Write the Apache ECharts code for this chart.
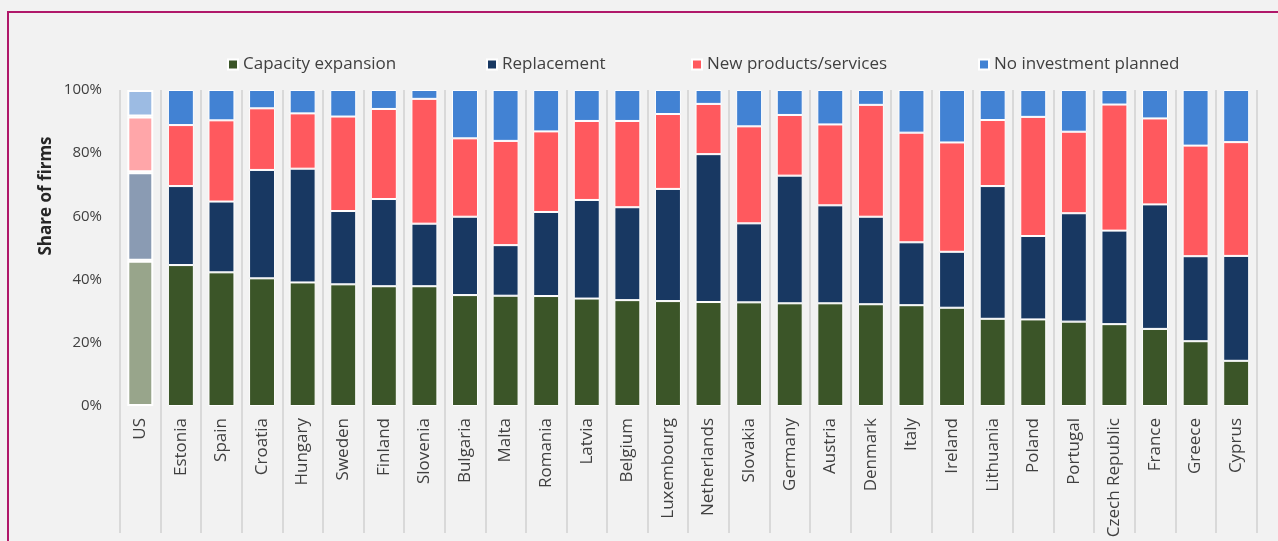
<!DOCTYPE html>
<html>
<head>
<meta charset="utf-8">
<script src="https://cdn.jsdelivr.net/npm/echarts@6/dist/echarts.min.js"></script>
<style>
html,body{margin:0;padding:0;background:#f2f2f2;}
#wrap{position:relative;width:1278px;height:541px;overflow:hidden;background:#f2f2f2;}
#frame{position:absolute;left:7px;top:11px;width:1400px;height:600px;border-left:2px solid #b0186a;border-top:2px solid #b0186a;box-sizing:border-box;}
#chart{position:absolute;left:0;top:0;width:1278px;height:541px;}
</style>
</head>
<body>
<div id="wrap"><div id="frame"></div><div id="chart"></div></div>
<script>
const categories = ["US","Estonia","Spain","Croatia","Hungary","Sweden","Finland","Slovenia","Bulgaria","Malta","Romania","Latvia","Belgium","Luxembourg","Netherlands","Slovakia","Germany","Austria","Denmark","Italy","Ireland","Lithuania","Poland","Portugal","Czech Republic","France","Greece","Cyprus"];
const capacityExpansion = [46.0,44.6,42.3,40.4,39.1,38.5,37.9,37.9,35.1,34.9,34.8,34.0,33.5,33.2,32.9,32.8,32.5,32.5,32.2,31.9,31.1,27.6,27.4,26.7,25.9,24.4,20.5,14.3];
const replacement = [28.0,25.0,22.4,34.3,36.0,23.2,27.6,19.8,24.8,16.0,26.6,31.2,29.4,35.5,46.8,25.0,40.4,31.0,27.7,19.9,17.7,42.0,26.4,34.3,29.6,39.4,26.9,33.2];
const newProducts = [17.6,19.3,25.7,19.5,17.5,29.9,28.5,39.5,24.8,33.0,25.5,25.0,27.3,23.7,15.9,30.7,19.2,25.6,35.4,34.7,34.6,20.9,37.7,25.8,39.9,27.2,35.0,36.0];
const noInvestment = [8.4,11.1,9.6,5.8,7.4,8.4,6.0,2.8,15.3,16.1,13.1,9.8,9.8,7.6,4.4,11.5,7.9,10.9,4.7,13.5,16.6,9.5,8.5,13.2,4.6,9.0,17.6,16.5];
const seriesNames = ["Capacity expansion","Replacement","New products/services","No investment planned"];
const yTicks = [0,20,40,60,80,100];

const mainColors = ["#3b5528","#183862","#ff595e","#4282d3"];
const usColors = ["#98a58b","#8a9bb3","#ffa6a9","#9cbbe3"];
const values = [capacityExpansion, replacement, newProducts, noInvestment];
const legendLeft = [222, 481, 686, 973];

const series = values.map((arr, s) => ({
  name: seriesNames[s],
  type: 'bar',
  stack: 'total',
  barWidth: '64%',
  itemStyle: {color: mainColors[s], borderColor: '#ffffff', borderWidth: 1},
  emphasis: {disabled: true},
  data: arr.map((v, i) => i === 0
    ? {value: v, itemStyle: {color: usColors[s], borderColor: '#ffffff', borderWidth: 2}}
    : v)
}));

const font = "'Open Sans', 'Noto Sans', sans-serif";
const legends = seriesNames.map((n, i) => ({
  left: legendLeft[i], top: 51,
  icon: 'rect', itemWidth: 10, itemHeight: 10,
  textStyle: {fontSize: 17, color: '#404040', fontFamily: font},
  data: [n]
}));

const chart = echarts.init(document.getElementById('chart'), null, {renderer: 'canvas'});
chart.setOption({
  backgroundColor: 'transparent',
  animation: false,
  textStyle: {fontFamily: font},
  legend: legends,
  grid: {left: 120, right: 21.5, top: 90, bottom: 135, containLabel: false},
  xAxis: {
    type: 'category',
    data: categories,
    boundaryGap: true,
    axisLine: {show: false},
    axisTick: {show: true, interval: 0, length: 127, lineStyle: {color: '#d9d9d9', width: 2}},
    splitLine: {show: true, interval: 0, lineStyle: {color: '#d9d9d9', width: 2}},
    axisLabel: {interval: 0, rotate: 90, margin: 12, fontSize: 17, color: '#404040', fontFamily: font}
  },
  yAxis: {
    type: 'value',
    min: yTicks[0], max: yTicks[yTicks.length - 1], interval: 20,
    axisLine: {show: false},
    axisTick: {show: false},
    splitLine: {show: false},
    axisLabel: {formatter: v => v + '%', fontSize: 15, color: '#404040', margin: 18, fontFamily: font}
  },
  graphic: [{
    type: 'text',
    x: 46, y: 196,
    rotation: Math.PI / 2,
    style: {text: 'Share of firms', font: "bold 17px " + font, fill: '#262626', align: 'center', verticalAlign: 'middle'}
  }],
  series: series
});
</script>
</body>
</html>
